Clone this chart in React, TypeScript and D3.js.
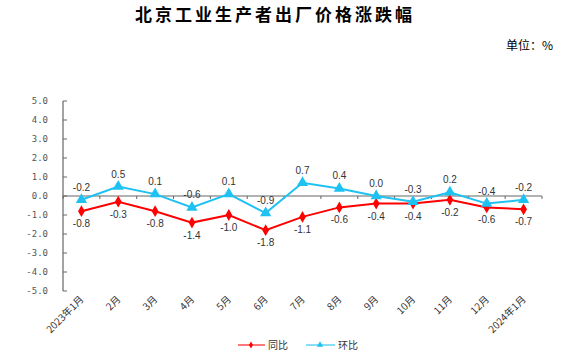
import React from 'react';
import * as d3 from 'd3';

const months = ['2023年1月', '2月', '3月', '4月', '5月', '6月', '7月', '8月', '9月', '10月', '11月', '12月', '2024年1月'];
const yoy = [-0.8, -0.3, -0.8, -1.4, -1.0, -1.8, -1.1, -0.6, -0.4, -0.4, -0.2, -0.6, -0.7];
const mom = [-0.2, 0.5, 0.1, -0.6, 0.1, -0.9, 0.7, 0.4, 0.0, -0.3, 0.2, -0.4, -0.2];
const yTicks = [5, 4, 3, 2, 1, 0, -1, -2, -3, -4, -5];

const RED = '#ff0000';
const BLUE = '#1ec2f2';
const W = 564;
const H = 359;

const App: React.FC = () => {
  const x = d3.scaleBand<string>().domain(months).range([63, 542]);
  const y = d3.scaleLinear().domain([-5, 5]).range([291, 101]);
  const cx = (m: string) => (x(m) as number) + x.bandwidth() / 2;

  const line = d3.line<number>()
    .x((_, i) => cx(months[i]))
    .y(d => y(d));

  const diamond = d3.symbol().type(d3.symbolDiamond).size(40)() as string;
  const triangle = d3.symbol().type(d3.symbolTriangle).size(55)() as string;
  const diamondSm = d3.symbol().type(d3.symbolDiamond).size(14)() as string;
  const triangleSm = d3.symbol().type(d3.symbolTriangle).size(18)() as string;

  const lblFont = { fontFamily: 'Liberation Sans, Arial, sans-serif', fontSize: 10, fill: '#333' };
  const bounds = [...months.map(m => x(m) as number), 542];

  return (
    <svg width={W} height={H} style={{ position: 'absolute', left: 0, top: 0, background: '#fff' }}>
      <text x={275} y={21} textAnchor="middle" fontFamily="Noto Sans CJK SC" fontWeight="bold"
        fontSize={17} letterSpacing={3} fill="#000">北京工业生产者出厂价格涨跌幅</text>
      <text x={553} y={50} textAnchor="end" fontFamily="Noto Sans CJK SC" fontSize={12} fill="#000">单位：%</text>

      {/* y axis */}
      <line x1={63} x2={63} y1={101} y2={291} stroke="#666" strokeWidth={1.2} />
      {yTicks.map(t => (
        <g key={t}>
          <line x1={63} x2={67} y1={y(t)} y2={y(t)} stroke="#666" />
          <text x={48} y={y(t) + 3} textAnchor="end" fontFamily="DejaVu Sans Mono, monospace"
            fontSize={9} fill="#555">{t.toFixed(1)}</text>
        </g>
      ))}

      {/* zero line with category ticks */}
      <line x1={63} x2={542} y1={y(0)} y2={y(0)} stroke="#666" strokeWidth={1.2} />
      {bounds.map((b, i) => (
        <line key={i} x1={b} x2={b} y1={y(0)} y2={y(0) + 3} stroke="#666" />
      ))}

      {/* x labels */}
      {months.map(m => (
        <text key={m} transform={`translate(${cx(m) + 3},${300}) rotate(-45)`} textAnchor="end"
          fontFamily="Noto Sans CJK SC" fontSize={10} fill="#333">{m}</text>
      ))}

      {/* series */}
      <path d={line(yoy) as string} fill="none" stroke={RED} strokeWidth={2} />
      <path d={line(mom) as string} fill="none" stroke={BLUE} strokeWidth={2} />
      {yoy.map((v, i) => (
        <g key={'r' + i}>
          <path d={diamond} transform={`translate(${cx(months[i])},${y(v)})`} fill={RED} />
          <text x={cx(months[i])} y={y(v) + 16} textAnchor="middle" {...lblFont}>{v.toFixed(1)}</text>
        </g>
      ))}
      {mom.map((v, i) => (
        <g key={'b' + i}>
          <path d={triangle} transform={`translate(${cx(months[i])},${y(v)})`} fill={BLUE} />
          <text x={cx(months[i])} y={y(v) - 9} textAnchor="middle" {...lblFont}>{v.toFixed(1)}</text>
        </g>
      ))}

      {/* legend */}
      <line x1={238} x2={265} y1={345} y2={345} stroke={RED} strokeWidth={1.5} opacity={0.7} />
      <path d={diamondSm} transform="translate(251,345)" fill={RED} />
      <text x={268} y={349} fontFamily="Noto Sans CJK SC" fontSize={10} fill="#333">同比</text>
      <line x1={306} x2={335} y1={345} y2={345} stroke={BLUE} strokeWidth={1.5} opacity={0.7} />
      <path d={triangleSm} transform="translate(320,345)" fill={BLUE} />
      <text x={338} y={349} fontFamily="Noto Sans CJK SC" fontSize={10} fill="#333">环比</text>
    </svg>
  );
};

export default App;
